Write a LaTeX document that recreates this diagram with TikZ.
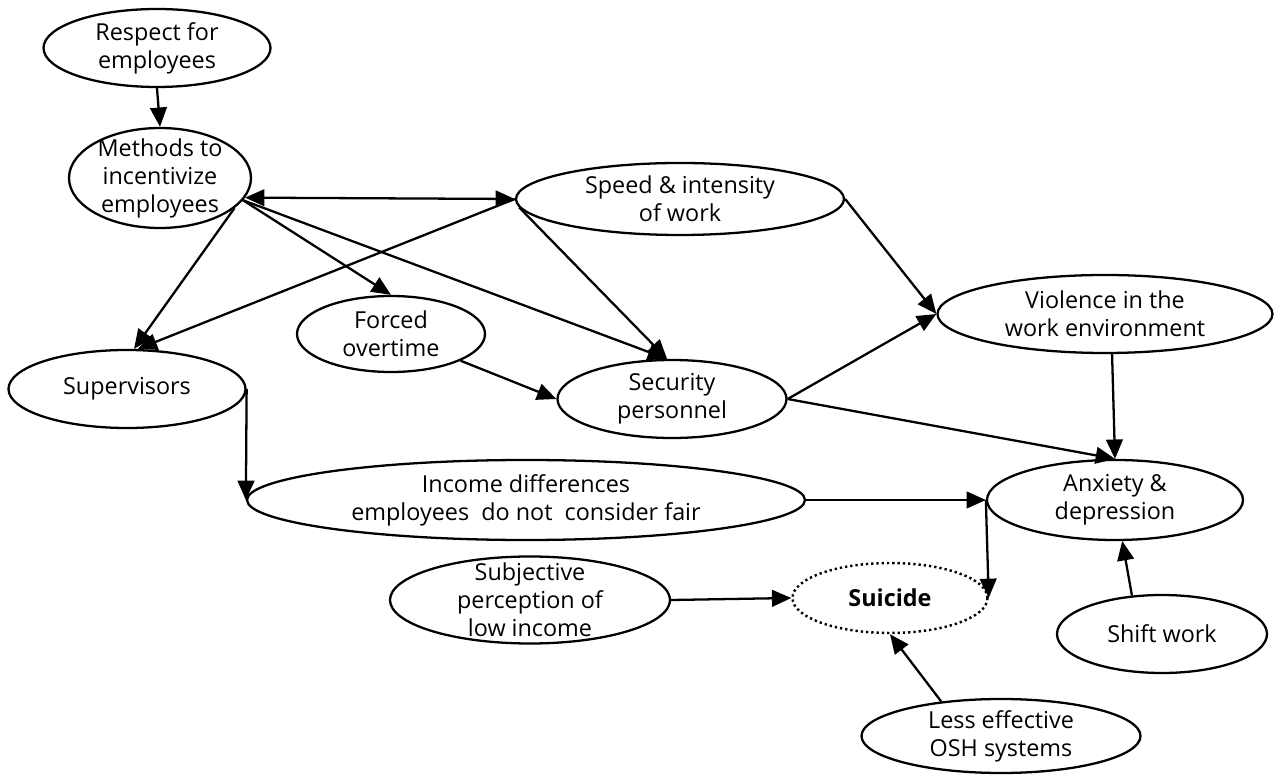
\documentclass[tikz,border=0pt]{standalone}
\usepackage{fontspec}
\setmainfont{Open Sans}
\usetikzlibrary{shapes.geometric,arrows.meta}

\begin{document}
\begin{tikzpicture} [
            x=0.02cm, y=-0.02cm,
            >={Triangle[length=11pt,width=9.5pt]},
            factor/.style={ellipse,draw,line width=1.3pt,inner sep=0pt},
            txt/.style={align=center,inner sep=0pt,font=\fontsize{13.3pt}{15.9pt}\selectfont},
            edge/.style={draw,line width=1.3pt,->},
        ]
        \useasboundingbox (0,0) rectangle (1282,776);
        \foreach \pos/\name/\w/\h/\txt in {
                {(157,48)/resp/227/78/{Respect for\\employees}},
                {(160,178)/meth/182/100/{Methods to\\incentivize\\employees}},
                {(680,199)/speed/328/72/{Speed \& intensity\\of work}},
                {(391,334)/forced/188/76/{Forced\\overtime}},
                {(672,399)/sec/229/78/{Security\\personnel}},
                {(1105,314)/viol/335/78/{Violence in the\\work environment}},
                {(127,389)/sup/237/78/{Supervisors}},
                {(526,500)/income/558/80/{Income differences\\employees\ \ do not\ \ consider fair}},
                {(1115,500)/anx/256/80/{Anxiety \&\\depression}},
                {(530,600)/subj/280/87/{Subjective\\perception of\\low income}},
                {(1162,634)/shift/210/78/{Shift work}},
                {(1001,736)/osh/279/74/{Less effective\\OSH systems}}}
            {
            \node[factor,minimum width=\w*0.02cm,minimum height=\h*0.02cm] (\name) at \pos {};
            \node[txt] (\name-t) at (\name) {\txt};
            }
        % the outcome
        \node[factor,line width=1.4pt,dash pattern=on 1.3pt off 1.7pt,
            minimum width=195*0.02cm,minimum height=70*0.02cm] (suic) at (890,598) {};
        \node[txt] (suic-t) at (suic) {\textbf{Suicide}};
        \draw[edge,<->] (meth.-13) -- (speed.west);
        \foreach \source/ \dest in {
                resp.south/meth.north, meth.-22/sup.80, speed.west/sup.75,
                meth.-15/forced.north, meth.-15/sec.97, speed.183/sec.97,
                forced.-21/sec.west, speed.east/viol.west, sec.east/viol.west,
                sec.east/anx.north, viol.-80/anx.north, sup.east/income.west,
                income.east/anx.west, anx.west/suic.east, subj.east/suic.west,
                osh.150/suic.south, shift.128/anx.-80}
            \draw[edge] (\source) -- (\dest);
    \end{tikzpicture}
\end{document}
